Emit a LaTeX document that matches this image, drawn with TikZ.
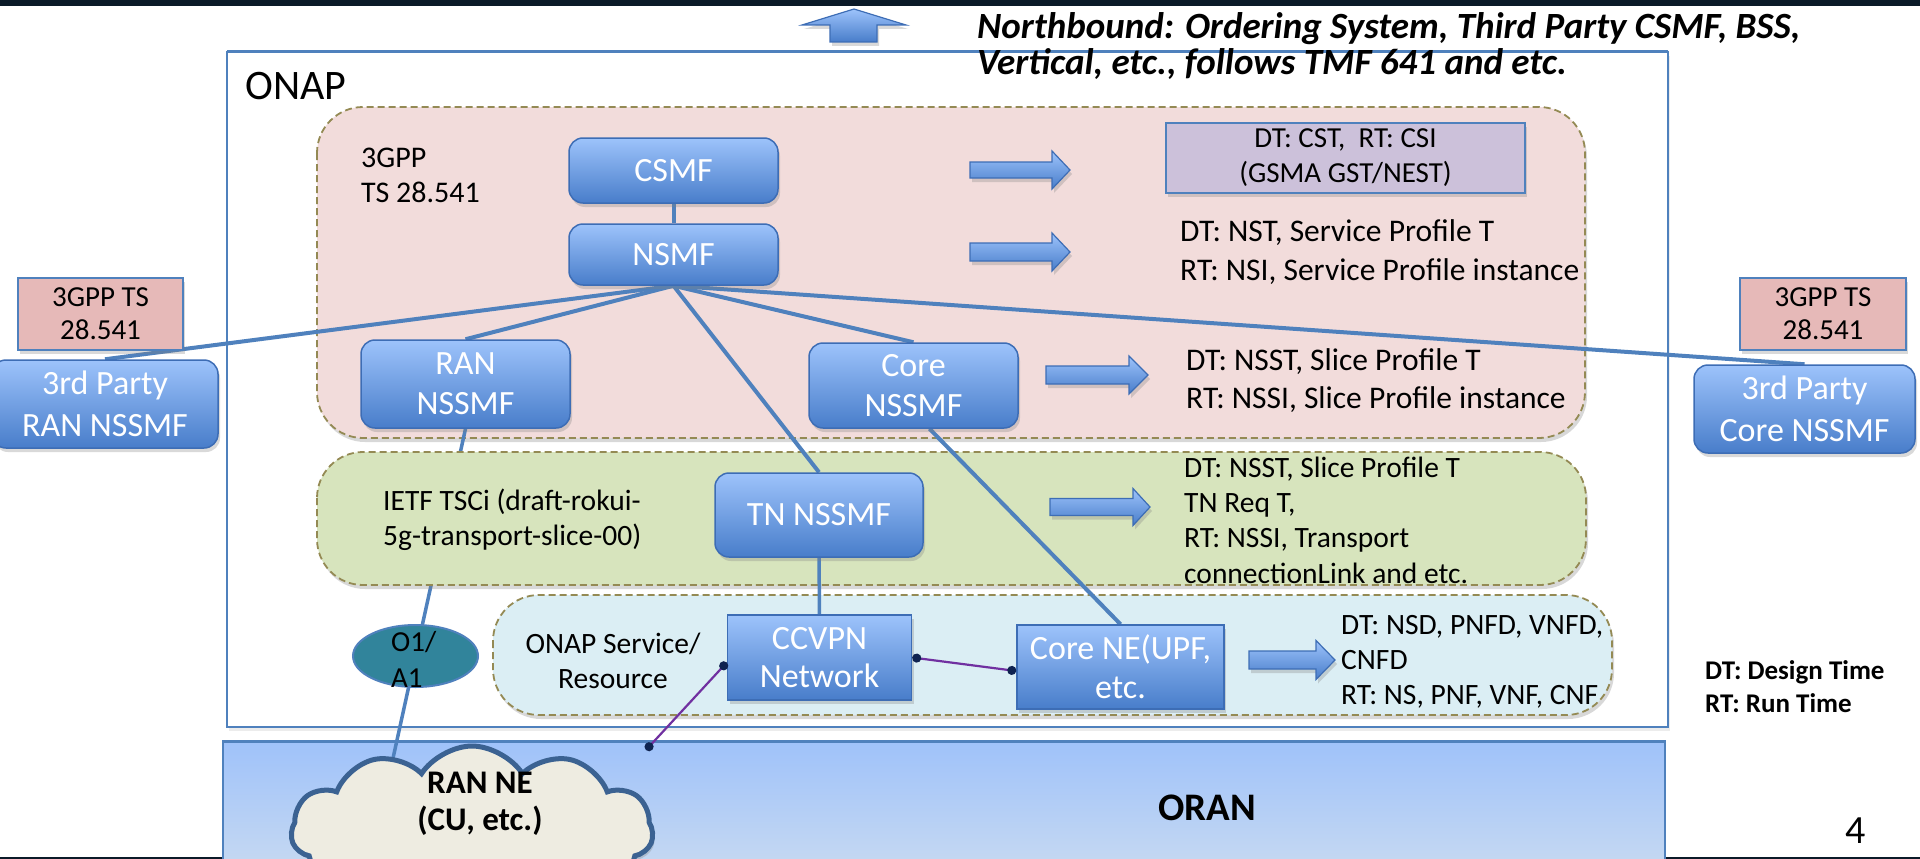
\documentclass[tikz,border=0pt]{standalone}
\usepackage{fontspec}
\setmainfont{Carlito}
\usetikzlibrary{shapes.geometric,shapes.symbols,shadows,arrows.meta,calc}
\pgfdeclarelayer{back}
\pgfdeclarelayer{low}
\pgfdeclarelayer{mid}
\pgfdeclarelayer{conn}
\pgfdeclarelayer{top}
\pgfsetlayers{back,low,mid,conn,main,top}

\definecolor{boxtop}{RGB}{157,195,251}
\definecolor{boxbot}{RGB}{72,125,202}
\definecolor{boxborder}{RGB}{61,109,181}
\definecolor{linkblue}{RGB}{79,129,189}
\definecolor{pinkfill}{RGB}{242,220,219}
\definecolor{greenfill}{RGB}{215,228,189}
\definecolor{lbfill}{RGB}{219,238,244}
\definecolor{regborder}{RGB}{148,138,84}
\definecolor{gppfill}{RGB}{230,185,184}
\definecolor{cstfill}{RGB}{204,193,218}
\definecolor{tealfill}{RGB}{49,132,155}
\definecolor{purpleline}{RGB}{112,48,160}
\definecolor{navydot}{RGB}{15,35,80}
\definecolor{cloudfill}{RGB}{238,236,225}
\definecolor{cloudborder}{RGB}{59,98,146}
\definecolor{orantop}{RGB}{159,194,250}
\definecolor{oranbot}{RGB}{200,218,241}
\definecolor{darkband}{RGB}{11,26,40}

\newcommand{\fsz}[2]{\fontsize{#1}{#2}\selectfont}
\newcommand{\rarrow}[6]{\draw[bigarrow] (#1,#4-#5) -- (#3,#4-#5) -- (#3,#4-#6) -- (#2,#4) -- (#3,#4+#6) -- (#3,#4+#5) -- (#1,#4+#5) -- cycle;}

\begin{document}
\begin{tikzpicture}[x=1pt,y=-1pt,
  shadowed/.style={drop shadow={opacity=0.3, shadow xshift=2pt, shadow yshift=-4pt}},
  bluebox/.style={draw=boxborder, line width=1.5pt, top color=boxtop, bottom color=boxbot, rounded corners=14pt, text=white, font=\fsz{34}{40}, align=center, inner sep=0pt, shadowed},
  sqbox/.style={bluebox, sharp corners},
  region/.style={draw=regborder, line width=1.8pt, dash pattern=on 7pt off 4pt, rounded corners=46pt, shadowed},
  link/.style={draw=linkblue, line width=4pt},
  plink/.style={draw=purpleline, line width=2.2pt, {Circle[length=9pt,color=navydot]}-{Circle[length=9pt,color=navydot]}},
  reftext/.style={anchor=west, align=left, inner sep=0pt, font=\fsz{30}{35}},
  bigarrow/.style={draw=boxborder, line width=1.2pt, top color=boxtop, bottom color=boxbot, shadowed},
  gppbox/.style={draw=linkblue, line width=1.5pt, fill=gppfill, align=center, font=\fsz{29}{33}, inner sep=0pt, shadowed}
]
\useasboundingbox (0,0) rectangle (1920,859);
\clip (0,0) rectangle (1920,859);

% ---------- nodes ----------
\node[bluebox, minimum width=209pt, minimum height=65pt] (csmf) at (673.5,170.5) {CSMF};
\node[bluebox, minimum width=209pt, minimum height=61pt] (nsmf) at (673.5,254.5) {NSMF};
\node[bluebox, minimum width=209pt, minimum height=88pt] (rannssmf) at (465.5,384) {RAN\\NSSMF};
\node[bluebox, minimum width=209pt, minimum height=85pt] (corenssmf) at (913.5,385.5) {Core\\NSSMF};
\node[bluebox, minimum width=208pt, minimum height=84pt] (tnnssmf) at (819,515) {TN NSSMF};
\node[sqbox, minimum width=184pt, minimum height=85pt, font=\fsz{34}{38}] (ccvpn) at (819.5,657.5) {CCVPN\\Network};
\node[sqbox, minimum width=207pt, minimum height=84pt, font=\fsz{34}{39}] (corene) at (1120.5,667) {Core NE(UPF,\\etc.};
\node[bluebox, minimum width=226pt, minimum height=88pt, font=\fsz{34}{42}] (rdran) at (105,404) {3rd Party\\RAN NSSMF};
\node[bluebox, minimum width=221pt, minimum height=88pt, font=\fsz{34}{42}] (rdcore) at (1804.5,409) {3rd Party\\Core NSSMF};
\node[gppbox, minimum width=165pt, minimum height=72pt] (gppl) at (100.5,314) {3GPP TS\\28.541};
\node[gppbox, minimum width=166pt, minimum height=72pt] (gppr) at (1823,314) {3GPP TS\\28.541};
\node[draw=linkblue, line width=1.5pt, fill=cstfill, minimum width=359pt, minimum height=70pt, align=center, font=\fsz{29}{35}, inner sep=0pt, shadowed] (cst) at (1345.5,158) {DT: CST,\ \ RT: CSI\\(GSMA GST/NEST)};
\node[ellipse, draw=linkblue, line width=2pt, fill=tealfill, minimum width=125pt, minimum height=62pt, inner sep=0pt] (o1) at (415.5,656) {};
\node[reftext, font=\fsz{29}{36}] (o1text) at (391,659) {O1/\\A1};
\node[cloud, cloud puffs=11, cloud puff arc=115, cloud ignores aspect, minimum width=362pt, minimum height=170pt, draw=cloudborder, line width=5pt, fill=cloudfill, inner sep=0pt, shadowed] (ranne) at (472,831) {};
\node[align=center, font=\bfseries\fsz{33}{37}, inner sep=0pt] (rannetext) at (480,804) {RAN NE\\(CU, etc.)};

\node[anchor=west, inner sep=0pt, font=\fsz{42}{48}] (onap) at (245,86) {ONAP};
\node[reftext, font=\bfseries\itshape\fsz{37}{36}] (north) at (977,46) {Northbound: Ordering System, Third Party CSMF, BSS,\\Vertical, etc., follows TMF 641 and etc.};
\node[reftext] (gpptext) at (361,175) {3GPP\\TS 28.541};
\node[reftext, font=\fsz{31.5}{39}] (nsttext) at (1180,252) {DT: NST, Service Profile T\\RT: NSI, Service Profile instance};
\node[reftext, font=\fsz{31.5}{38}] (nssttext) at (1186,381) {DT: NSST, Slice Profile T\\RT: NSSI, Slice Profile instance};
\node[reftext, font=\fsz{29.5}{35}] (ietf) at (383,520) {IETF TSCi (draft-rokui-\\5g-transport-slice-00)};
\node[reftext, font=\fsz{29.5}{35.3}] (tntext) at (1184,520) {DT: NSST, Slice Profile T\\TN Req T,\\RT: NSSI, Transport\\connectionLink and etc.};
\node[align=center, inner sep=0pt, font=\fsz{29.5}{35}] (onapsvc) at (613,661) {ONAP Service/\\Resource};
\node[reftext, font=\fsz{29.5}{35}] (nsdtext) at (1341,662) {DT: NSD, PNFD, VNFD,\\CNFD\\RT: NS, PNF, VNF, CNF};
\node[reftext, font=\bfseries\fsz{27}{33}] (legend) at (1705,687) {DT: Design Time\\RT: Run Time};
\node[inner sep=0pt, font=\fsz{40}{40}] (pagenum) at (1856,831) {4};
\node[inner sep=0pt, font=\bfseries\fsz{39}{39}] (oran) at (1207,808) {ORAN};

% ---------- background ----------
\begin{pgfonlayer}{back}
  \fill[darkband] (0,0) rectangle (1920,6);
  \fill[darkband] (0,857) rectangle (1920,859);
  \draw[draw=linkblue, line width=1.5pt, top color=orantop, bottom color=oranbot] (223,741) rectangle (1665,875);
  \draw[linkblue, line width=3pt] (223,741) -- (1665,741);
  \draw[linkblue, line width=1.5pt, fill=white, drop shadow={opacity=0.15, shadow xshift=2pt, shadow yshift=-4pt}] (227,52) rectangle (1668,727);
  \draw[linkblue, line width=3pt] (227,52) -- (1668,52);
  \draw[region, fill=pinkfill] (317,107) rectangle (1585,438);
  \draw[bigarrow] (830,42) -- (830,25) -- (802,25) -- (854,9) -- (906,25) -- (877,25) -- (877,42) -- cycle;
\end{pgfonlayer}

\begin{pgfonlayer}{low}
  \draw[link, line width=3.5pt] (rannssmf.south) -- ($(rannssmf.south)!1.5!(o1.center)$);
\end{pgfonlayer}

\begin{pgfonlayer}{mid}
  \draw[region, fill=greenfill] (317,452) rectangle (1586,585);
  \draw[region, fill=lbfill] (493,595) rectangle (1612,715);
\end{pgfonlayer}

\begin{pgfonlayer}{conn}
  \draw[link] (csmf) -- (nsmf);
  \draw[link] (nsmf.south) -- (rdran.north);
  \draw[link] (nsmf.south) -- (rannssmf.north);
  \draw[link] (nsmf.south) -- (tnnssmf.north);
  \draw[link] (nsmf.south) -- (corenssmf.north);
  \draw[link] (nsmf.south) -- (rdcore.north);
  \draw[link] ([xshift=16pt]corenssmf.south) -- (corene.north);
  \draw[link, line width=3.5pt] (tnnssmf) -- (ccvpn);
  \rarrow{970}{1070}{1052}{170}{8}{19}
  \rarrow{970}{1070}{1052}{252}{9}{19}
  \rarrow{1046}{1148}{1129}{375}{9}{19}
  \rarrow{1050}{1150}{1133}{507}{8.5}{18.5}
  \rarrow{1249}{1335}{1316}{660}{9}{19.5}
\end{pgfonlayer}

\begin{pgfonlayer}{top}
  \coordinate (cloudtap) at (646,750);
  \draw[plink] (ccvpn.east) -- ([yshift=-4pt]corene.west);
  \draw[plink] ([yshift=-5pt]ccvpn.west) -- (cloudtap);
\end{pgfonlayer}
\end{tikzpicture}
\end{document}
